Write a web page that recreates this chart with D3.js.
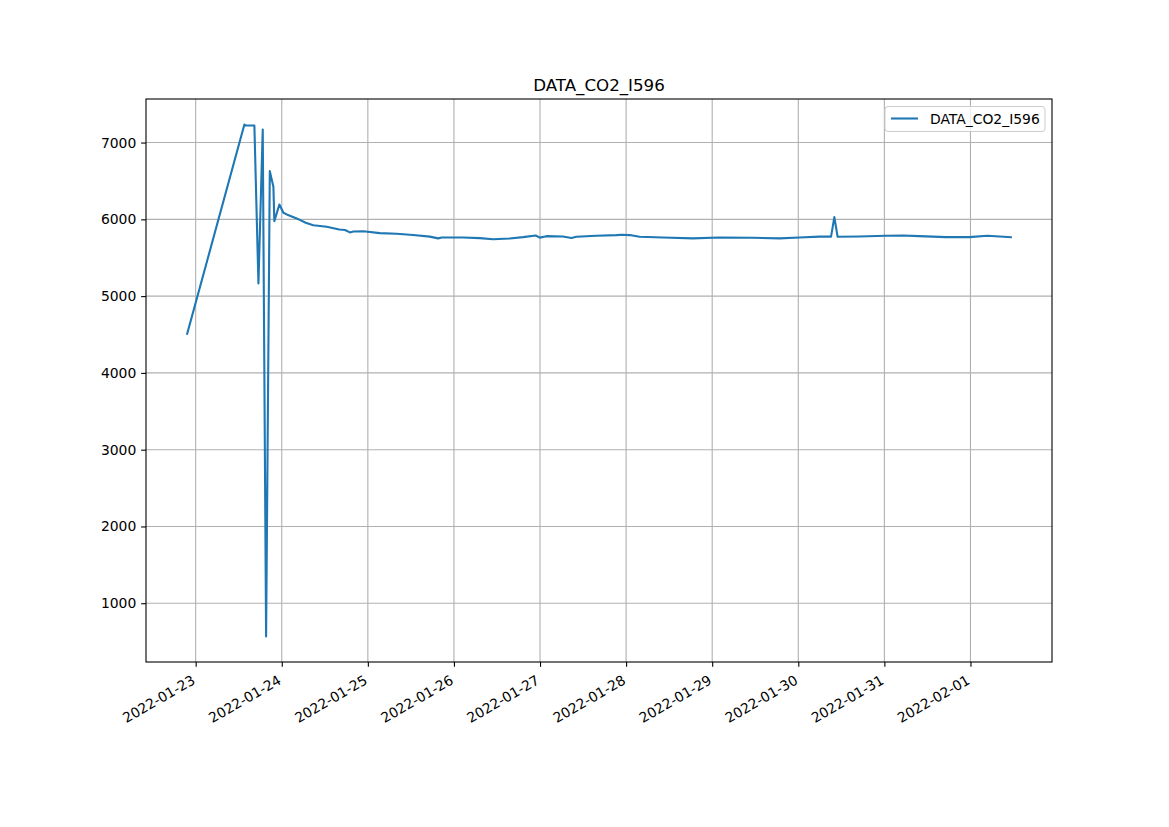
<!DOCTYPE html>
<html>
<head>
<meta charset="utf-8">
<script src="https://cdn.jsdelivr.net/npm/d3@7"></script>
<style>
  html, body { margin: 0; padding: 0; background: #fff; }
  svg { display: block; font-family: "DejaVu Sans", sans-serif; }
  svg text { font-family: "DejaVu Sans", sans-serif; }
</style>
</head>
<body>
<svg id="chart" width="1169" height="827"></svg>
<script>
const title = "DATA_CO2_I596";
const seriesName = "DATA_CO2_I596";
const times = [
  "2022-01-22 21:38", "2022-01-23 13:35", "2022-01-23 14:00", "2022-01-23 16:22",
  "2022-01-23 17:30", "2022-01-23 18:42", "2022-01-23 19:38", "2022-01-23 20:40",
  "2022-01-23 21:40", "2022-01-23 21:56", "2022-01-23 23:20", "2022-01-24 00:27",
  "2022-01-24 01:24", "2022-01-24 04:10", "2022-01-24 06:40", "2022-01-24 08:48",
  "2022-01-24 12:32", "2022-01-24 16:02", "2022-01-24 17:37", "2022-01-24 19:01",
  "2022-01-24 19:56", "2022-01-24 22:44", "2022-01-25 03:22", "2022-01-25 08:00",
  "2022-01-25 12:38", "2022-01-25 17:17", "2022-01-25 19:36", "2022-01-25 20:33",
  "2022-01-26 02:34", "2022-01-26 07:12", "2022-01-26 10:55", "2022-01-26 15:33",
  "2022-01-26 19:16", "2022-01-26 22:48", "2022-01-26 23:55", "2022-01-27 01:47",
  "2022-01-27 06:24", "2022-01-27 08:44", "2022-01-27 10:08", "2022-01-27 15:42",
  "2022-01-27 21:16", "2022-01-27 22:45", "2022-01-28 00:59", "2022-01-28 03:46",
  "2022-01-28 10:15", "2022-01-28 18:36", "2022-01-29 02:02", "2022-01-29 11:18",
  "2022-01-29 18:44", "2022-01-30 00:19", "2022-01-30 05:53", "2022-01-30 09:08",
  "2022-01-30 10:03", "2022-01-30 10:58", "2022-01-30 17:01", "2022-01-31 00:27",
  "2022-01-31 05:04", "2022-01-31 09:43", "2022-01-31 17:09", "2022-01-31 23:38",
  "2022-02-01 04:44", "2022-02-01 11:15"
];
const values = [
  4510, 7234, 7222, 7222,
  5165, 7170, 568, 6628,
  6425, 5975, 6193, 6085,
  6064, 6012, 5956, 5924,
  5903, 5868, 5862, 5830,
  5842, 5844, 5820, 5812,
  5795, 5775, 5752, 5764,
  5764, 5755, 5740, 5751,
  5768, 5790, 5762, 5781,
  5777, 5756, 5773, 5786,
  5795, 5800, 5795, 5773,
  5764, 5752, 5764, 5760,
  5752, 5764, 5775, 5775,
  6029, 5773, 5777, 5786,
  5790, 5781, 5768, 5768,
  5786, 5768
];
const xTickLabels = ["2022-01-23","2022-01-24","2022-01-25","2022-01-26","2022-01-27",
  "2022-01-28","2022-01-29","2022-01-30","2022-01-31","2022-02-01"];
const yTickValues = [1000, 2000, 3000, 4000, 5000, 6000, 7000];

const parse = d3.timeParse("%Y-%m-%d %H:%M");
const parseDay = d3.timeParse("%Y-%m-%d");
const data = times.map((t, i) => ({ t: parse(t), v: values[i] }));

const FONT = "'DejaVu Sans', sans-serif";
const svg = d3.select("#chart");
const mLeft = 146, mRight = 1052, mTop = 99, mBottom = 662;

const tExt = d3.extent(data, d => d.t);
const tPad = (tExt[1] - tExt[0]) * 0.05;
const x = d3.scaleTime()
  .domain([new Date(+tExt[0] - tPad), new Date(+tExt[1] + tPad)])
  .range([mLeft, mRight]);
const vExt = d3.extent(data, d => d.v);
const vPad = (vExt[1] - vExt[0]) * 0.05;
const y = d3.scaleLinear()
  .domain([vExt[0] - vPad, vExt[1] + vPad])
  .range([mBottom, mTop]);

const xTicks = xTickLabels.map(parseDay);

// grid
const grid = svg.append("g");
grid.selectAll(".gx").data(xTicks).enter().append("line")
  .attr("x1", d => x(d)).attr("x2", d => x(d))
  .attr("y1", mTop).attr("y2", mBottom)
  .attr("stroke", "#b0b0b0").attr("stroke-width", 1.1);
grid.selectAll(".gy").data(yTickValues).enter().append("line")
  .attr("x1", mLeft).attr("x2", mRight)
  .attr("y1", d => y(d)).attr("y2", d => y(d))
  .attr("stroke", "#b0b0b0").attr("stroke-width", 1.1);

// line
const line = d3.line().x(d => x(d.t)).y(d => y(d.v));
svg.append("path").datum(data)
  .attr("d", line)
  .attr("fill", "none")
  .attr("stroke", "#1f77b4")
  .attr("stroke-width", 2.1)
  .attr("stroke-linejoin", "round")
  .attr("stroke-linecap", "square");

// axes
const xAxis = d3.axisBottom(x).tickValues(xTicks)
  .tickFormat(d3.timeFormat("%Y-%m-%d")).tickSizeOuter(0).tickSize(4.86).tickPadding(4.86);
const gx = svg.append("g").attr("transform", `translate(0,${mBottom})`).call(xAxis)
  .attr("font-family", FONT);
gx.select(".domain").remove();
gx.selectAll(".tick line").attr("stroke", "#000").attr("stroke-width", 1.1);
gx.selectAll(".tick text")
  .attr("font-size", "13.9px").attr("fill", "#000")
  .attr("text-anchor", "end")
  .attr("dy", null).attr("y", null)
  .attr("transform", "translate(0,21) rotate(-30)");

const yAxis = d3.axisLeft(y).tickValues(yTickValues).tickFormat(d3.format("d"))
  .tickSizeOuter(0).tickSize(4.86).tickPadding(4.86);
const gy = svg.append("g").attr("transform", `translate(${mLeft},0)`).call(yAxis)
  .attr("font-family", FONT);
gy.select(".domain").remove();
gy.selectAll(".tick line").attr("stroke", "#000").attr("stroke-width", 1.1);
gy.selectAll(".tick text").attr("font-size", "13.9px").attr("fill", "#000");

// frame
svg.append("rect").attr("x", mLeft).attr("y", mTop)
  .attr("width", mRight - mLeft).attr("height", mBottom - mTop)
  .attr("fill", "none").attr("stroke", "#000").attr("stroke-width", 1.1);

// title
svg.append("text").attr("x", (mLeft + mRight) / 2).attr("y", mTop - 8.3)
  .attr("text-anchor", "middle").attr("font-size", "16.67px").attr("fill", "#000")
  .attr("font-family", FONT)
  .text(title);

// legend
const lg = svg.append("g").attr("font-family", FONT);
lg.append("rect").attr("x", 885).attr("y", 106.5).attr("width", 160).attr("height", 25)
  .attr("rx", 3).attr("fill", "#fff").attr("fill-opacity", 0.8)
  .attr("stroke", "#cccccc").attr("stroke-width", 1);
lg.append("line").attr("x1", 891).attr("x2", 918).attr("y1", 118.5).attr("y2", 118.5)
  .attr("stroke", "#1f77b4").attr("stroke-width", 2.1);
lg.append("text").attr("x", 930).attr("y", 123.5)
  .attr("font-size", "13.9px").attr("fill", "#000").text(seriesName);
</script>
</body>
</html>
